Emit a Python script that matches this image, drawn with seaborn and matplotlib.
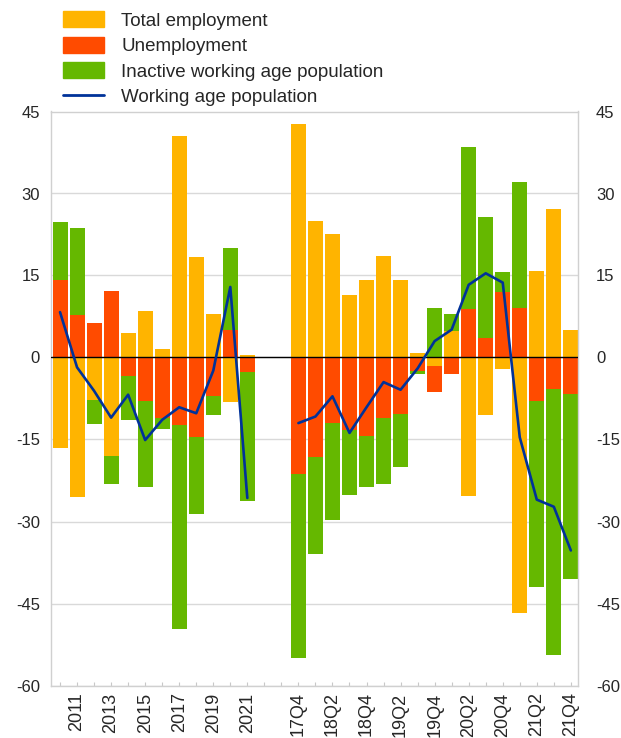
import pandas as pd
import matplotlib.pyplot as plt
from matplotlib.patches import Patch
from matplotlib.lines import Line2D
import seaborn as sns

years = ['2010', '2011', '2012', '2013', '2014', '2015', '2016', '2017', '2018', '2019', '2020', '2021']
quarters = ['17Q4', '18Q1', '18Q2', '18Q3', '18Q4', '19Q1', '19Q2', '19Q3', '19Q4',
            '20Q1', '20Q2', '20Q3', '20Q4', '21Q1', '21Q2', '21Q3', '21Q4']

employment = [-16.5, -25.5, -7.7, -18.1, 4.5, 8.5, 1.5, 40.6, 18.4, 8.0, -8.2, 0.4,
              42.8, 25.0, 22.6, 11.4, 14.2, 18.6, 14.2, 0.9, -1.6,
              4.8, -25.3, -10.5, -2.1, -46.8, 15.9, 27.2, 5.1]
unemployment = [14.1, 7.7, 6.3, 12.2, -3.4, -7.9, -11.0, -12.3, -14.5, -7.0, 5.1, -2.7,
                -21.4, -18.2, -11.9, -13.3, -14.3, -11.1, -10.3, -2.5, -4.7,
                -3.0, 8.8, 3.5, 11.9, 9.1, -7.9, -5.8, -6.7]
inactive = [10.7, 15.9, -4.5, -5.1, -8.0, -15.7, -2.1, -37.3, -14.2, -3.5, 15.0, -23.5,
            -33.5, -17.8, -17.9, -11.9, -9.3, -12.1, -9.8, -0.6, 9.1,
            3.2, 29.7, 22.2, 3.8, 23.0, -34.0, -48.6, -33.9]
working_age = [8.3, -1.8, -6.1, -11.0, -6.8, -15.1, -11.4, -9.1, -10.2, -2.4, 12.9, -25.7,
               -12.0, -10.8, -7.1, -13.8, -9.1, -4.5, -5.9, -2.0, 3.0,
               5.1, 13.3, 15.4, 13.7, -14.6, -26.0, -27.3, -35.3]

# two empty slots between the annual and quarterly blocks
positions = list(range(12)) + list(range(14, 31))

df = pd.DataFrame({
    'label': years + quarters,
    'pos': positions,
    'emp': employment,
    'unemp': unemployment,
    'inact': inactive,
    'work': working_age,
    'segment': ['annual'] * 12 + ['quarterly'] * 17,
})

cols = ['emp', 'unemp', 'inact']
pos_stack = df[cols].clip(lower=0).cumsum(axis=1)
neg_stack = df[cols].clip(upper=0).cumsum(axis=1)

colors = {'emp': '#FFB400', 'unemp': '#FF4B00', 'inact': '#65B800'}
blue = '#003299'

sns.set_style('white')
plt.rcParams['font.family'] = ['Liberation Sans', 'DejaVu Sans']
plt.rcParams['axes.unicode_minus'] = False

fig = plt.figure(figsize=(6.21, 7.38), dpi=100)
ax = fig.add_axes([51 / 621, 1 - 685.5 / 738, (578 - 51) / 621, (685.5 - 111.5) / 738])

# stacked bars: draw cumulative totals from the outermost layer inwards
for stack in (pos_stack, neg_stack):
    for col in ['inact', 'unemp', 'emp']:
        sns.barplot(x=df['pos'], y=stack[col], color=colors[col], native_scale=True,
                    width=0.88, saturation=1, linewidth=0, errorbar=None,
                    orient='x', ax=ax, zorder=2)

ax.axhline(0, color='black', lw=1.0, zorder=3)

sns.lineplot(data=df, x='pos', y='work', units='segment', estimator=None,
             color=blue, linewidth=1.9, legend=False, ax=ax, zorder=4)

yticks = list(range(-60, 46, 15))
ax.set_ylim(-60, 45)
ax.set_yticks(yticks)
ax.yaxis.grid(True, color='#d9d9d9', lw=1)
ax.set_axisbelow(True)

ax.set_xlim(-0.53, 30.42)
major_pos = list(range(1, 12, 2)) + list(range(14, 31, 2))
major_lab = [df.loc[df['pos'] == p, 'label'].iloc[0] for p in major_pos]
ax.set_xticks(major_pos)
ax.set_xticklabels(major_lab)
ax.set_xticks(range(31), minor=True)
ax.tick_params(axis='x', which='both', direction='in', length=3, width=0.8,
               color='#c8c8c8', labelsize=13, pad=5, labelrotation=90, bottom=True)
ax.tick_params(axis='y', length=0, labelsize=12, pad=8)
ax.set_xlabel('')
ax.set_ylabel('')
for s in ax.spines.values():
    s.set_color('#d0d0d0')
    s.set_linewidth(1)

ax2 = ax.twinx()
ax2.set_ylim(-60, 45)
ax2.set_yticks(yticks)
ax2.tick_params(axis='y', length=0, labelsize=12, pad=13)
for s in ax2.spines.values():
    s.set_visible(False)

handles = [Patch(color=colors['emp']), Patch(color=colors['unemp']),
           Patch(color=colors['inact']), Line2D([0], [0], color=blue, lw=2)]
labels = ['Total employment', 'Unemployment', 'Inactive working age population',
          'Working age population']
fig.legend(handles, labels, loc='upper left', bbox_to_anchor=(63 / 621, 1 - 11 / 738),
           frameon=False, fontsize=13.5, handlelength=2.2, handleheight=0.95,
           handletextpad=0.9, labelspacing=0.38, borderpad=0, borderaxespad=0)

fig.savefig('out.png', dpi=100)
